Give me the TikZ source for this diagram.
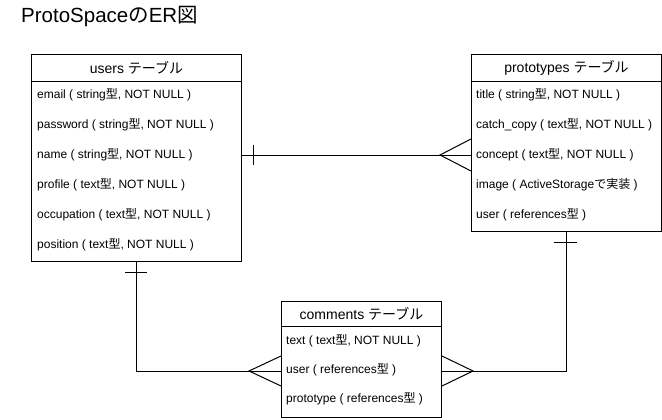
\documentclass[tikz,border=0pt]{standalone}
\usepackage{fontspec}
\setmainfont{Liberation Sans}
\newfontfamily\cjkfont{Noto Sans CJK JP}
\newcommand\jp[1]{{\cjkfont #1}}
\begin{document}
\begin{tikzpicture}[x=1pt,y=-1pt,
  hdr/.style={draw=black, line width=1pt, anchor=north west, inner sep=0pt, font=\fontsize{14}{16}\selectfont},
  tbody/.style={draw=black, line width=1pt, anchor=north west, inner sep=0pt},
  row/.style={anchor=west, inner sep=0pt, font=\fontsize{12}{14}\selectfont},
  conn/.style={draw=black, line width=1pt},
  ttl/.style={anchor=base west, inner sep=0pt, font=\fontsize{20.5}{24}\selectfont}
]
\useasboundingbox (0,0) rectangle (662,420);
\fill[white] (0,0) rectangle (662,420);

\node[ttl] (title) at (21,23) {ProtoSpace\jp{の}ER\jp{図}};

% users table
\node[hdr, minimum width=210pt, minimum height=27pt] (uh) at (31,54) {users \jp{テーブル}};
\node[tbody, minimum width=210pt, minimum height=180pt] (ub) at (31,81) {};
\node[row] (u1) at (37,95) {email ( string\jp{型}, NOT NULL )};
\node[row] (u2) at (37,125) {password ( string\jp{型}, NOT NULL )};
\node[row] (u3) at (37,155) {name ( string\jp{型}, NOT NULL )};
\node[row] (u4) at (37,185) {profile ( text\jp{型}, NOT NULL )};
\node[row] (u5) at (37,215) {occupation ( text\jp{型}, NOT NULL )};
\node[row] (u6) at (37,245) {position ( text\jp{型}, NOT NULL )};

% prototypes table
\node[hdr, minimum width=190pt, minimum height=27pt] (ph) at (471,54) {prototypes \jp{テーブル}};
\node[tbody, minimum width=190pt, minimum height=150pt] (pb) at (471,81) {};
\node[row] (p1) at (476,95) {title ( string\jp{型}, NOT NULL )};
\node[row] (p2) at (476,125) {catch\_copy ( text\jp{型}, NOT NULL )};
\node[row] (p3) at (476,155) {concept ( text\jp{型}, NOT NULL )};
\node[row] (p4) at (476,185) {image ( ActiveStorage\jp{で実装} )};
\node[row] (p5) at (476,215) {user ( references\jp{型} )};

% comments table
\node[hdr, minimum width=160pt, minimum height=25pt] (ch) at (281,301) {comments \jp{テーブル}};
\node[tbody, minimum width=160pt, minimum height=91pt] (cb) at (281,326) {};
\node[row] (c1) at (286,341) {text ( text\jp{型}, NOT NULL )};
\node[row] (c2) at (286,370) {user ( references\jp{型} )};
\node[row] (c3) at (286,399) {prototype ( references\jp{型} )};

% helper coordinates
\coordinate (l1) at (0,155);
\coordinate (l2) at (0,371);
\coordinate (vu) at (136,0);
\coordinate (vp) at (566,0);

% users -- prototypes (one to many)
\draw[conn] (ub.east |- l1) -- (pb.west |- l1);
\draw[conn] ([yshift=10pt,xshift=11pt]ub.east |- l1) -- ++(0,20);
\draw[conn] ([yshift=16pt]pb.west |- l1) -- ++(-31,16) -- ++(31,16);

% users -- comments (one to many)
\draw[conn] (ub.south -| vu) -- (vu |- l2) -- (cb.west |- l2);
\draw[conn] ([yshift=-10pt,xshift=-11pt]ub.south -| vu) -- ++(22,0);
\draw[conn] ([yshift=15pt]cb.west |- l2) -- ++(-32,15) -- ++(32,15);

% prototypes -- comments (one to many)
\draw[conn] (pb.south -| vp) -- (vp |- l2) -- (cb.east |- l2);
\draw[conn] ([yshift=-10pt,xshift=-12pt]pb.south -| vp) -- ++(23,0);
\draw[conn] ([yshift=15pt]cb.east |- l2) -- ++(31,15) -- ++(-31,15);
\end{tikzpicture}
\end{document}
